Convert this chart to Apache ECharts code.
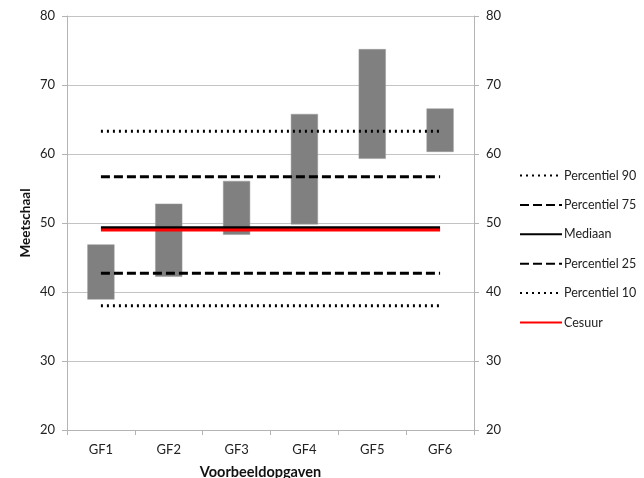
<!DOCTYPE html>
<html>
<head>
<meta charset="utf-8">
<script src="https://cdn.jsdelivr.net/npm/echarts@6/dist/echarts.min.js"></script>
<style>
  html, body { margin: 0; padding: 0; background: #fff; }
  #chart { width: 644px; height: 478px; }
</style>
</head>
<body>
<div id="chart"></div>
<script>
// Voorbeeldopgaven and their score range on the Meetschaal
const categories = ['GF1', 'GF2', 'GF3', 'GF4', 'GF5', 'GF6'];
const rangeLow  = [38.9, 42.2, 48.3, 49.8, 59.3, 60.3];
const rangeHigh = [46.9, 52.8, 56.1, 65.8, 75.2, 66.6];

// Reference levels
const percentiel90 = 63.3;
const percentiel75 = 56.7;
const mediaan      = 49.3;
const percentiel25 = 42.7;
const percentiel10 = 38.0;
const cesuur       = 49.0;

const yTicks = { min: 20, max: 80, interval: 10 };

const font = 'Lato, "Open Sans", sans-serif';
const axisGray = '#b4b4b4';

function levelSeries(name, value, color, type, width, z) {
  return {
    name: name,
    type: 'line',
    data: categories.map(() => value),
    symbol: 'none',
    silent: true,
    z: z,
    lineStyle: { color: color, width: width, type: type, cap: type === 'dotted' ? 'round' : 'butt' },
    itemStyle: { color: color }
  };
}

const chart = echarts.init(document.getElementById('chart'), null, { renderer: 'canvas' });

const yAxisCommon = {
  type: 'value',
  min: yTicks.min,
  max: yTicks.max,
  interval: yTicks.interval,
  axisLine: { show: true, lineStyle: { color: axisGray, width: 1 } },
  axisTick: { show: true, length: 5, lineStyle: { color: axisGray } },
  axisLabel: { color: '#222', fontSize: 13, fontFamily: font, margin: 12 },
  splitLine: { show: true, lineStyle: { color: '#c4c4c4', width: 1 } }
};

chart.setOption({
  animation: false,
  backgroundColor: '#fff',
  grid: { left: 67, right: 170, top: 16, bottom: 48, containLabel: false, outerBoundsMode: 'none' },
  legend: {
    orient: 'vertical',
    left: 514,
    top: 164,
    itemWidth: 42,
    itemHeight: 14,
    itemGap: 16.4,
    selectedMode: false,
    itemStyle: { opacity: 0 },
    textStyle: { color: '#222', fontSize: 12.5, fontFamily: font, padding: [0, 0, 0, -3] },
    data: ['Percentiel 90', 'Percentiel 75', 'Mediaan', 'Percentiel 25', 'Percentiel 10', 'Cesuur']
  },
  xAxis: {
    type: 'category',
    data: categories,
    boundaryGap: true,
    name: 'Voorbeeldopgaven',
    nameLocation: 'middle',
    nameGap: 35,
    nameMoveOverlap: false,
    nameTextStyle: { fontWeight: 'bold', fontSize: 14.5, color: '#111', fontFamily: font, padding: [0, 20, 0, 0] },
    axisLine: { show: true, lineStyle: { color: axisGray } },
    axisTick: { show: true, alignWithLabel: false, length: 5, lineStyle: { color: axisGray } },
    axisLabel: { color: '#222', fontSize: 13, fontFamily: font, margin: 13 }
  },
  yAxis: [
    Object.assign({}, yAxisCommon, {
      position: 'left',
      name: 'Meetschaal',
      nameLocation: 'middle',
      nameGap: 34,
      nameMoveOverlap: false,
      nameRotate: 90,
      nameTextStyle: { fontWeight: 'bold', fontSize: 13.5, color: '#111', fontFamily: font }
    }),
    Object.assign({}, yAxisCommon, {
      position: 'right',
      splitLine: { show: false }
    })
  ],
  series: [
    {
      name: 'base',
      type: 'bar',
      stack: 'range',
      data: rangeLow,
      barWidth: '40%',
      itemStyle: { color: 'rgba(0,0,0,0)' },
      silent: true,
      z: 2
    },
    {
      name: 'range',
      type: 'bar',
      stack: 'range',
      data: rangeHigh.map((h, i) => +(h - rangeLow[i]).toFixed(2)),
      barWidth: '40%',
      itemStyle: { color: '#808080', borderColor: '#9a9a9a', borderWidth: 0.5 },
      silent: true,
      z: 2
    },
    levelSeries('Percentiel 90', percentiel90, '#000', [2, 4], 3, 3),
    levelSeries('Percentiel 75', percentiel75, '#000', [9, 4], 3, 3),
    levelSeries('Mediaan', mediaan, '#000', 'solid', 3, 3),
    levelSeries('Percentiel 25', percentiel25, '#000', [9, 4], 3, 3),
    levelSeries('Percentiel 10', percentiel10, '#000', [2, 4], 3, 3),
    levelSeries('Cesuur', cesuur, '#ff0000', 'solid', 3, 4)
  ]
});
</script>
</body>
</html>
